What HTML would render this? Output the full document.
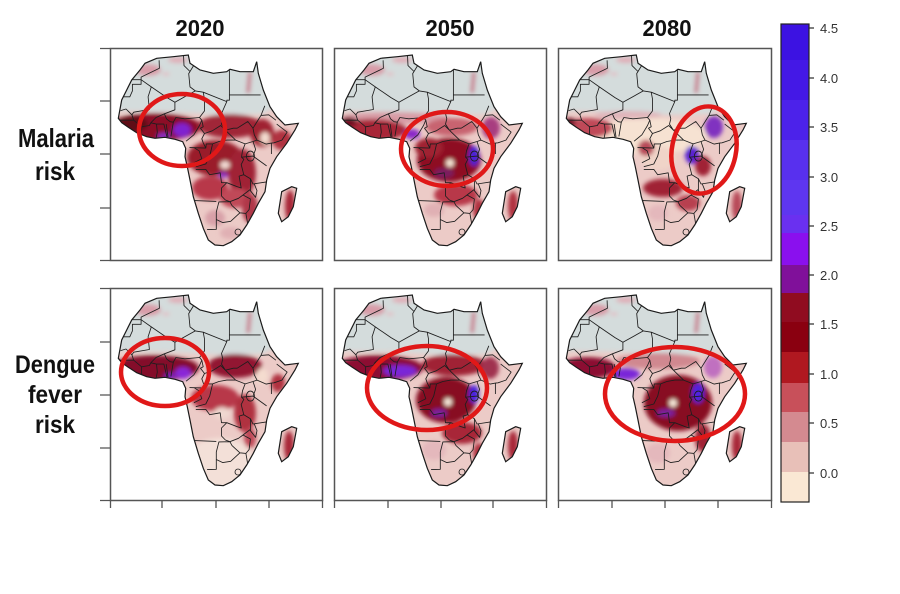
<!DOCTYPE html>
<html><head><meta charset="utf-8"><style>
html,body{margin:0;padding:0;background:#fff;}
svg{display:block;}
text{font-family:"Liberation Sans",Arial,sans-serif;}
</style></head><body>
<svg width="900" height="594" viewBox="0 0 900 594" xmlns="http://www.w3.org/2000/svg">
<defs>
<path id="afr" d="M8.3,70.3 L11.7,52 L16.7,42 L21.7,32 L30,22 L35,15.3 L46.7,10.3 L63.3,8.7 L78.3,7 L80,15.3 L90,22 L103.3,25.3 L116.7,23.7 L120,21.3 L130,23.7 L143.3,23.7 L146.7,13.7 L148.3,25.3 L153.3,42 L160,58.7 L166.7,68.7 L175,77 L188.3,75.3 L185,82 L176.7,95.3 L166.7,108.7 L160,120.3 L156.7,132 L155,143.7 L148.3,155.3 L143.3,165.3 L136.7,177 L130,187 L121.7,193.7 L113.3,197.7 L105,197 L98.3,192 L93.3,180.3 L88.3,165.3 L83.3,148.7 L80,132 L77.3,118.7 L75,108.7 L75.7,100.3 L72.7,93.7 L65,91.3 L55,89.3 L45,90.3 L36.7,88.7 L26.7,84.7 L18.3,79.3 L11.7,74.7 Z M171.7,143.7 L181.7,138.7 L186.7,140.3 L183.3,158.7 L178.3,168.7 L171.7,173.7 L168.3,165.3 Z"/>
<clipPath id="clip"><use href="#afr"/></clipPath>
<filter id="bl" x="-20%" y="-20%" width="140%" height="140%"><feGaussianBlur stdDeviation="2"/></filter>
<g id="bord" fill="none" stroke="#1e1e1e" stroke-width="0.85" stroke-linejoin="round">
<path d="M49.1,12.3 L49.4,20.3 L31.1,29.1 L31.1,31.7 L19.3,31.7 M31.1,31.7 L31.1,36.3 L22.4,36.3 L22.4,42.9 L19.8,48.8 L9.3,48.8"/>
<path d="M31.1,31.7 L41.3,38.9 L57,49.6 L64.9,54.3 L85.3,42.9 L80,38.9 L78.7,25.6 L80,23.5 L83.9,17.1 M73.5,7.3 L74,17.6 L80,23.5"/>
<path d="M41.3,38.9 L38.1,48.8 L39.4,61.5 L23.7,64.2 L21.9,66.8 M10.6,62.6 L16,61 L21.9,66.8 L23.7,72.2 M10,72.2 L23.7,72.2 L31.6,78.8 L39.4,77.5 L40.8,74.8 L46,69.5 L54.4,65.8 L64.9,61.8 L64.9,54.3"/>
<path d="M34.2,94.8 L31.6,85.5 L31.6,78.8 M45.7,91.9 L47.3,84.2 L46.5,76.1 L53.9,76.1 L57,89.1 M54.4,65.8 L56.5,70.8 L60.1,73.7 L63.3,74.2 L60.9,88.4 M58,88.9 L56.2,76.1 M46.5,76.1 L40.8,74.8"/>
<path d="M63.3,74.2 L65.9,69.5 L74.8,70.8 L89.5,69.5 M76.1,93.2 L83.9,86.8 L89.5,77.5 L91.8,72.2 L89.5,69.5"/>
<path d="M89.5,69.5 L94.5,62.9 L94.5,50.9 L93.2,44.2 L85.3,42.9 M93.2,44.2 L116.8,53.6 L116.8,52.2 L119.4,52.2 L119.4,46.9 L119.4,21.6 M119.4,46.9 L150.6,46.9"/>
<path d="M116.8,53.6 L111.5,65.5 L112.8,70.8 L111.5,76.1 L115.4,82.2 M94.5,85.5 L102.3,82.8 L110.7,77.5 L115.4,82.2 M91.8,72.2 L93.2,78.8 L90.5,80.2 L94.5,85.5"/>
<path d="M115.4,82.2 L123.4,80.2 L127.2,80.2 L137.8,73.5 L143,80.2 M115.4,82.2 L125.6,92.1 L135.1,95.9 L143,93.5 L147,92.1 M143,80.2 L144.3,86.8 L147,92.1"/>
<path d="M143,80.2 L151,67.4 L154.8,57.8 M151,67.4 L158.8,66.8 L165.9,72.2 M166.7,76.1 L177.1,84.1 L171.9,92.1 L164,94.8 L161.4,95.1 M147,92.1 L156.2,96.1 L161.4,95.1"/>
<path d="M161.4,95.1 L161.4,106 M143,93.5 L145.6,101.4 L143,108.1 L156.6,117.9 M135.1,95.9 L132.5,102.8 L131.5,109.2 L143,108.1 M131.5,109.2 L133.8,111.3 L131.2,116.6 L133.8,126.7 L140.4,130.7 L143,136 L159.8,133.4"/>
<path d="M140.4,130.7 L140.4,142.7 L145.6,149.3 L147,142.7 L144.3,136 M133,147 L140.4,141.4 M119.9,153.7 L128.5,150.3 L133,147 L140.4,151 L139.1,161.6 L135.9,165.4 L129.9,164.8 L122,157.6 L119.9,153.7 M135.9,165.4 L137.8,176.5 M129.9,164.8 L120.7,173.3 L112.8,174.6 L106.3,171.5 L106.3,164 L108.9,153.9 L119.9,153.7 M84.8,152.6 L106.3,153.4 M106.3,171.5 L106.3,181.3 L97.1,181.6"/>
<circle cx="128" cy="184" r="3"/>
<path d="M85.8,121.4 L95.8,121.4 L99.7,126.7 L110.2,124.8 L111.5,134.7 L116.8,134.7 L111.5,140 L111.5,148 L115.4,152 M116.8,134.7 L127.2,138.7 L131.2,140 L129.1,128.1 L133.8,126.7 M115.4,152 L119.9,153.7"/>
<path d="M102.6,95.9 L108.9,93.5 L116.8,92.1 L125.6,92.1 M102.6,95.9 L99.7,108.1 L95.8,116 L85.8,118.7 M95.8,100.1 L93.2,94.8 L91.8,90.8 L94.5,85.5 M79.5,99.6 L95.8,100.1 L96.3,95.9 L102.6,95.9 M83.9,99.6 L89.1,102.8 L91.8,110.7 L83.9,114.7"/>
<ellipse cx="140.4" cy="108.1" rx="4" ry="5"/>
</g>
<g id="sah">
<path d="M0,0 H212 V58 L165,60 L152,66 L110,67 L60,64 L0,63 Z" fill="#d4dcdc"/>
<ellipse cx="38" cy="22" rx="13" ry="6" fill="#d89ca8"/>
<ellipse cx="68" cy="12" rx="10" ry="3" fill="#e0acb6"/>
<ellipse cx="56" cy="26" rx="4" ry="1.5" fill="#e4b8c0"/>
<path d="M140,24 L138,45" stroke="#c87a8c" stroke-width="4" fill="none"/>
</g>
</defs>

<!-- Titles -->
<text x="200" y="36" font-size="23" font-weight="bold" text-anchor="middle" textLength="49" lengthAdjust="spacingAndGlyphs" fill="#111">2020</text>
<text x="450" y="36" font-size="23" font-weight="bold" text-anchor="middle" textLength="49" lengthAdjust="spacingAndGlyphs" fill="#111">2050</text>
<text x="667" y="36" font-size="23" font-weight="bold" text-anchor="middle" textLength="49" lengthAdjust="spacingAndGlyphs" fill="#111">2080</text>

<!-- Row labels -->
<text x="18" y="147" font-size="26" font-weight="bold" textLength="76" lengthAdjust="spacingAndGlyphs" fill="#111">Malaria</text>
<text x="35" y="180" font-size="26" font-weight="bold" textLength="40" lengthAdjust="spacingAndGlyphs" fill="#111">risk</text>
<text x="15" y="373" font-size="25" font-weight="bold" textLength="80" lengthAdjust="spacingAndGlyphs" fill="#111">Dengue</text>
<text x="28" y="403" font-size="25" font-weight="bold" textLength="54" lengthAdjust="spacingAndGlyphs" fill="#111">fever</text>
<text x="35" y="433" font-size="25" font-weight="bold" textLength="40" lengthAdjust="spacingAndGlyphs" fill="#111">risk</text>

<!-- Panel 1: Malaria 2020 -->
<g transform="translate(110,48)">
<g clip-path="url(#clip)">
<rect width="212" height="212" fill="#eccbc7"/>
<g filter="url(#bl)">
<use href="#sah"/>
<ellipse cx="45" cy="79" rx="46" ry="14" fill="#8c1028"/>
<ellipse cx="22" cy="76" rx="16" ry="8" fill="#5e0818"/>
<ellipse cx="72" cy="82" rx="9" ry="7" fill="#8020d0"/>
<ellipse cx="54" cy="88" rx="7" ry="3" fill="#8a30c8"/>
<ellipse cx="120" cy="78" rx="32" ry="12" fill="#a02838"/>
<ellipse cx="152" cy="85" rx="12" ry="14" fill="#a02030"/>
<ellipse cx="155" cy="90" rx="5" ry="6" fill="#f3dccf"/>
<ellipse cx="172" cy="92" rx="10" ry="10" fill="#b03040"/>
<ellipse cx="105" cy="110" rx="28" ry="18" fill="#9a1a2c"/>
<ellipse cx="132" cy="125" rx="14" ry="24" fill="#a02434"/>
<ellipse cx="115" cy="117" rx="5" ry="4" fill="#f2dcd4"/>
<ellipse cx="113" cy="127" rx="5" ry="3" fill="#8a30c0"/>
<ellipse cx="100" cy="140" rx="18" ry="12" fill="#b83848"/>
<ellipse cx="125" cy="150" rx="15" ry="10" fill="#c04858"/>
<ellipse cx="140" cy="160" rx="8" ry="15" fill="#b03848"/>
<ellipse cx="105" cy="170" rx="10" ry="8" fill="#d8a0a8"/>
<ellipse cx="120" cy="185" rx="10" ry="6" fill="#e0b0b4"/>
<ellipse cx="180" cy="158" rx="5" ry="16" fill="#a82838"/>
</g>
<use href="#bord"/>
</g>
<use href="#afr" fill="none" stroke="#1a1a1a" stroke-width="1.2"/>
</g>

<!-- Panel 2: Malaria 2050 -->
<g transform="translate(334,48)">
<g clip-path="url(#clip)">
<rect width="212" height="212" fill="#eccbc7"/>
<g filter="url(#bl)">
<use href="#sah"/>
<ellipse cx="60" cy="70" rx="55" ry="6" fill="#d89ca6"/>
<ellipse cx="38" cy="82" rx="35" ry="11" fill="#a82838"/>
<ellipse cx="15" cy="74" rx="8" ry="5" fill="#701020"/>
<ellipse cx="78" cy="86" rx="8" ry="5" fill="#8a28c8"/>
<ellipse cx="118" cy="79" rx="26" ry="9" fill="#c86470"/>
<ellipse cx="157" cy="80" rx="9" ry="11" fill="#a83e80"/>
<ellipse cx="115" cy="112" rx="32" ry="22" fill="#8e1024"/>
<ellipse cx="95" cy="100" rx="14" ry="10" fill="#a02030"/>
<ellipse cx="140" cy="108" rx="5" ry="10" fill="#4a22d8"/>
<ellipse cx="116" cy="115" rx="4" ry="4" fill="#f8ead8"/>
<ellipse cx="110" cy="125" rx="10" ry="5" fill="#7a1a60"/>
<ellipse cx="122" cy="147" rx="22" ry="11" fill="#b83848"/>
<ellipse cx="145" cy="162" rx="6" ry="11" fill="#b03040"/>
<ellipse cx="100" cy="162" rx="10" ry="7" fill="#e0b0b4"/>
<ellipse cx="179" cy="158" rx="5" ry="15" fill="#b03040"/>
</g>
<use href="#bord"/>
</g>
<use href="#afr" fill="none" stroke="#1a1a1a" stroke-width="1.2"/>
</g>

<!-- Panel 3: Malaria 2080 -->
<g transform="translate(558,48)">
<g clip-path="url(#clip)">
<rect width="212" height="212" fill="#eccbc7"/>
<g filter="url(#bl)">
<use href="#sah"/>
<ellipse cx="90" cy="88" rx="58" ry="18" fill="#f6e2d2"/>
<ellipse cx="30" cy="80" rx="25" ry="10" fill="#c04858"/>
<ellipse cx="12" cy="74" rx="6" ry="4" fill="#701020"/>
<ellipse cx="70" cy="67" rx="34" ry="4" fill="#e0b4ba"/>
<ellipse cx="156" cy="79" rx="9" ry="11" fill="#8030c0"/>
<ellipse cx="134" cy="107" rx="7" ry="9" fill="#5a22d0"/>
<ellipse cx="145" cy="118" rx="8" ry="10" fill="#a02434"/>
<ellipse cx="100" cy="110" rx="18" ry="12" fill="#f0d4c8"/>
<ellipse cx="105" cy="140" rx="20" ry="9" fill="#a02434"/>
<ellipse cx="88" cy="100" rx="8" ry="8" fill="#b84858"/>
<ellipse cx="130" cy="155" rx="12" ry="8" fill="#b84050"/>
<ellipse cx="100" cy="165" rx="10" ry="8" fill="#e4b8bc"/>
<ellipse cx="179" cy="158" rx="5" ry="15" fill="#b84858"/>
</g>
<use href="#bord"/>
</g>
<use href="#afr" fill="none" stroke="#1a1a1a" stroke-width="1.2"/>
</g>

<!-- Panel 4: Dengue 2020 -->
<g transform="translate(110,288)">
<g clip-path="url(#clip)">
<rect width="212" height="212" fill="#eccbc7"/>
<g filter="url(#bl)">
<use href="#sah"/>
<ellipse cx="110" cy="175" rx="35" ry="25" fill="#f3e0d8"/>
<ellipse cx="45" cy="80" rx="44" ry="13" fill="#84102a"/>
<ellipse cx="73" cy="85" rx="8" ry="6" fill="#8a28d8"/>
<ellipse cx="60" cy="88" rx="6" ry="3" fill="#7a20c0"/>
<ellipse cx="125" cy="78" rx="27" ry="12" fill="#921430"/>
<ellipse cx="152" cy="88" rx="6" ry="8" fill="#f4dccf"/>
<ellipse cx="168" cy="95" rx="7" ry="9" fill="#b03040"/>
<ellipse cx="105" cy="110" rx="24" ry="13" fill="#b83848"/>
<ellipse cx="135" cy="125" rx="11" ry="19" fill="#b03040"/>
<ellipse cx="112" cy="125" rx="8" ry="6" fill="#f0d8d0"/>
<ellipse cx="140" cy="150" rx="6" ry="10" fill="#c04858"/>
<ellipse cx="179" cy="158" rx="5" ry="15" fill="#a82838"/>
</g>
<use href="#bord"/>
</g>
<use href="#afr" fill="none" stroke="#1a1a1a" stroke-width="1.2"/>
</g>

<!-- Panel 5: Dengue 2050 -->
<g transform="translate(334,288)">
<g clip-path="url(#clip)">
<rect width="212" height="212" fill="#eccbc7"/>
<g filter="url(#bl)">
<use href="#sah"/>
<ellipse cx="45" cy="80" rx="44" ry="13" fill="#8c1030"/>
<ellipse cx="66" cy="83" rx="17" ry="6" fill="#7a28d8"/>
<ellipse cx="120" cy="77" rx="32" ry="11" fill="#a02034"/>
<ellipse cx="156" cy="80" rx="9" ry="11" fill="#a03050"/>
<ellipse cx="112" cy="112" rx="30" ry="23" fill="#880c20"/>
<ellipse cx="140" cy="106" rx="5" ry="9" fill="#4a20e0"/>
<ellipse cx="114" cy="114" rx="4" ry="4" fill="#f8ecdc"/>
<ellipse cx="105" cy="125" rx="8" ry="4" fill="#7a20a0"/>
<ellipse cx="128" cy="145" rx="20" ry="11" fill="#a82838"/>
<ellipse cx="145" cy="165" rx="6" ry="10" fill="#b03040"/>
<ellipse cx="100" cy="162" rx="12" ry="10" fill="#e4b8bc"/>
<ellipse cx="179" cy="158" rx="5" ry="15" fill="#a82838"/>
</g>
<use href="#bord"/>
</g>
<use href="#afr" fill="none" stroke="#1a1a1a" stroke-width="1.2"/>
</g>

<!-- Panel 6: Dengue 2080 -->
<g transform="translate(558,288)">
<g clip-path="url(#clip)">
<rect width="212" height="212" fill="#eccbc7"/>
<g filter="url(#bl)">
<use href="#sah"/>
<ellipse cx="30" cy="80" rx="28" ry="11" fill="#8c1030"/>
<ellipse cx="100" cy="73" rx="42" ry="8" fill="#d08890"/>
<ellipse cx="68" cy="86" rx="14" ry="6" fill="#7a28d8"/>
<ellipse cx="120" cy="115" rx="34" ry="28" fill="#880c20"/>
<ellipse cx="155" cy="79" rx="9" ry="11" fill="#c070c0"/>
<ellipse cx="140" cy="105" rx="6" ry="10" fill="#5020e0"/>
<ellipse cx="115" cy="115" rx="4" ry="4" fill="#f8ecdc"/>
<ellipse cx="108" cy="125" rx="9" ry="4" fill="#7a20a0"/>
<ellipse cx="145" cy="150" rx="8" ry="14" fill="#a02434"/>
<ellipse cx="100" cy="165" rx="12" ry="10" fill="#e4b8bc"/>
<ellipse cx="179" cy="158" rx="5" ry="15" fill="#a82838"/>
</g>
<use href="#bord"/>
</g>
<use href="#afr" fill="none" stroke="#1a1a1a" stroke-width="1.2"/>
</g>

<!-- Panel boxes -->
<g fill="none" stroke="#555" stroke-width="1.5">
<rect x="110.5" y="48.5" width="212" height="212"/>
<rect x="334.5" y="48.5" width="212" height="212"/>
<rect x="558.5" y="48.5" width="213" height="212"/>
<rect x="110.5" y="288.5" width="212" height="212"/>
<rect x="334.5" y="288.5" width="212" height="212"/>
<rect x="558.5" y="288.5" width="213" height="212"/>
</g>
<!-- Ticks -->
<g stroke="#555" stroke-width="1.3">
<path d="M100,48.5H110 M100,101H110 M100,154H110 M100,208H110 M100,260.5H110"/>
<path d="M100,288.5H110 M100,342H110 M100,395H110 M100,448H110 M100,500.5H110"/>
<path d="M110.5,500V508 M162,500V508 M216,500V508 M269,500V508 M322.5,500V508"/>
<path d="M334.5,500V508 M388,500V508 M441,500V508 M493,500V508 M546.5,500V508"/>
<path d="M558.5,500V508 M612,500V508 M665,500V508 M718,500V508 M771.5,500V508"/>
</g>

<!-- Red ellipses -->
<g fill="none" stroke="#e01818" stroke-width="4.5">
<ellipse cx="182" cy="130" rx="43" ry="36"/>
<ellipse cx="447" cy="149" rx="46" ry="37"/>
<ellipse cx="704" cy="150" rx="32" ry="44" transform="rotate(12 704 150)"/>
<ellipse cx="165" cy="372" rx="44" ry="34"/>
<ellipse cx="427" cy="388" rx="60" ry="42"/>
<ellipse cx="675" cy="394" rx="70" ry="47"/>
</g>

<!-- Colorbar -->
<g>
<rect x="781" y="24" width="28" height="36" fill="#3c12e2"/>
<rect x="781" y="60" width="28" height="40" fill="#4418e6"/>
<rect x="781" y="100" width="28" height="40" fill="#4c22ea"/>
<rect x="781" y="140" width="28" height="40" fill="#5830ee"/>
<rect x="781" y="180" width="28" height="35" fill="#5e36f0"/>
<rect x="781" y="215" width="28" height="18" fill="#6a30f0"/>
<rect x="781" y="233" width="28" height="32" fill="#8a10ee"/>
<rect x="781" y="265" width="28" height="28" fill="#80109a"/>
<rect x="781" y="293" width="28" height="29" fill="#900c20"/>
<rect x="781" y="322" width="28" height="30" fill="#8a0010"/>
<rect x="781" y="352" width="28" height="31" fill="#b01820"/>
<rect x="781" y="383" width="28" height="29" fill="#c8505a"/>
<rect x="781" y="412" width="28" height="30" fill="#d48a90"/>
<rect x="781" y="442" width="28" height="30" fill="#e8c0b8"/>
<rect x="781" y="472" width="28" height="30" fill="#fae8d4"/>
<rect x="781" y="24" width="28" height="478" fill="none" stroke="#222" stroke-width="1.2"/>
<g stroke="#333" stroke-width="1.2">
<path d="M809,28H814 M809,78H814 M809,127H814 M809,177H814 M809,226H814 M809,275H814 M809,324H814 M809,374H814 M809,423H814 M809,473H814"/>
</g>
<g font-size="13" fill="#333">
<text x="820" y="33">4.5</text>
<text x="820" y="83">4.0</text>
<text x="820" y="132">3.5</text>
<text x="820" y="182">3.0</text>
<text x="820" y="231">2.5</text>
<text x="820" y="280">2.0</text>
<text x="820" y="329">1.5</text>
<text x="820" y="379">1.0</text>
<text x="820" y="428">0.5</text>
<text x="820" y="478">0.0</text>
</g>
</g>
</svg>
</body></html>
